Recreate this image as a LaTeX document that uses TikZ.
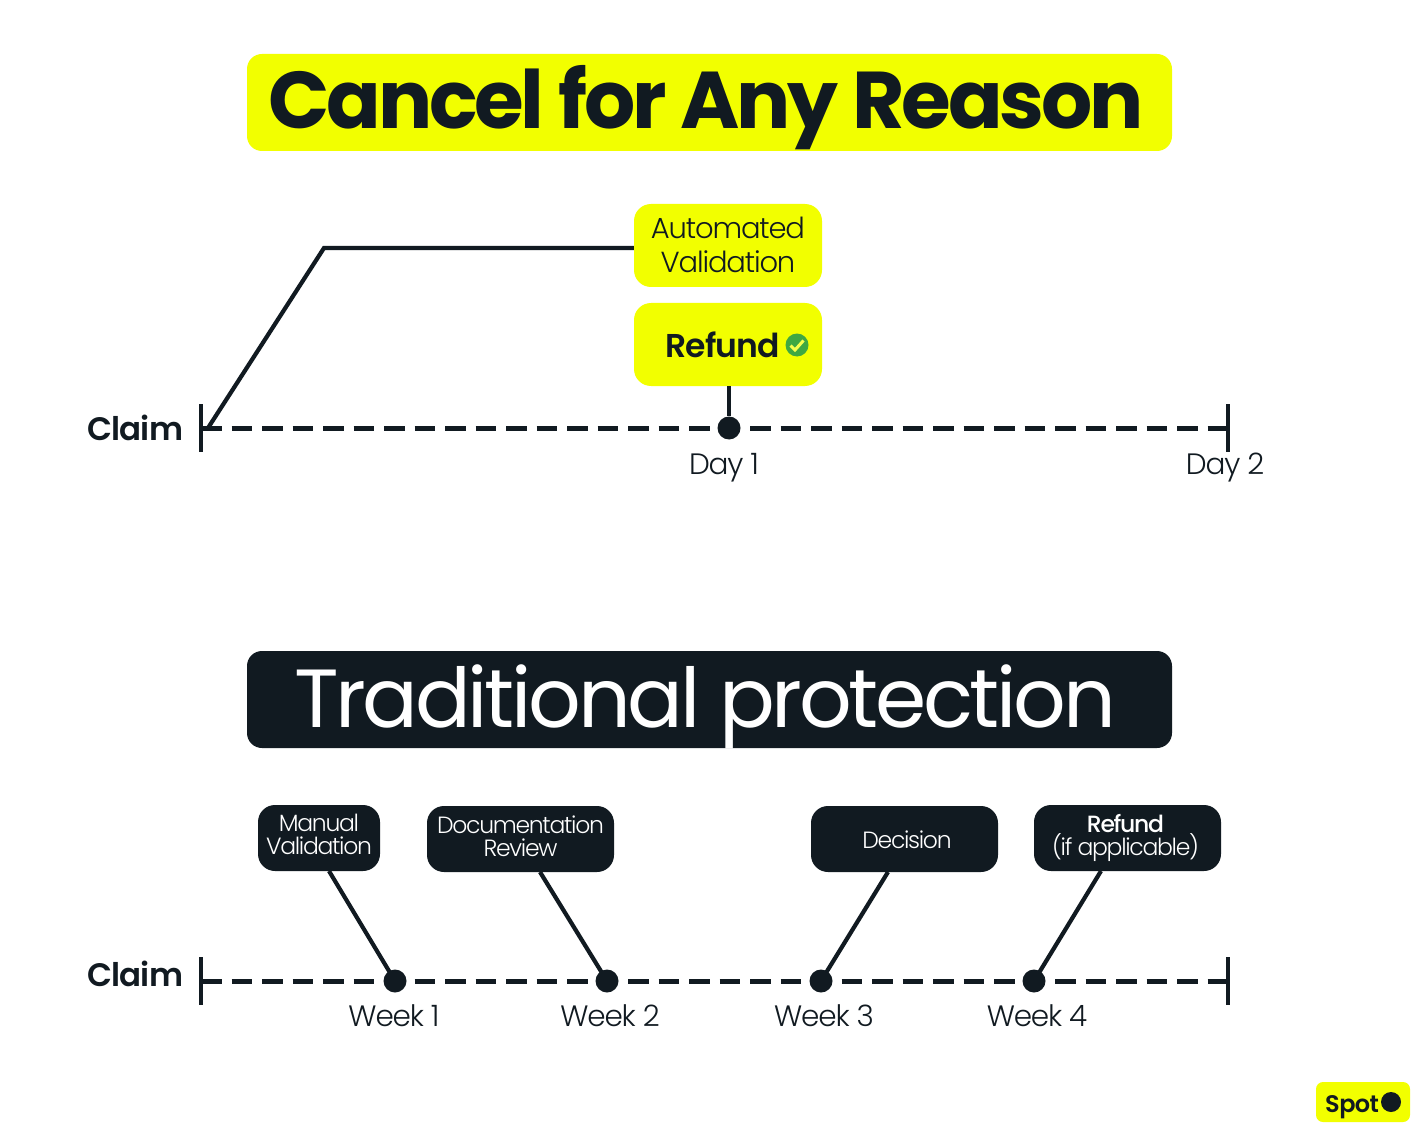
\documentclass[tikz,border=0pt]{standalone}
\usepackage{fontspec}
\setmainfont{Poppins}
\newfontfamily\popt[LetterSpace=-4,BoldFont=* Bold]{Poppins}
\newfontfamily\pops[LetterSpace=-4,UprightFont=* Light,BoldFont=* Medium]{Poppins}
\newfontfamily\popd[LetterSpace=-5.5,UprightFont=* Light,BoldFont=* Medium]{Poppins}
\newfontfamily\popb[LetterSpace=-2.5,UprightFont=* SemiBold]{Poppins}
\definecolor{ink}{HTML}{111A21}
\definecolor{lime}{HTML}{F2FF00}
\definecolor{okgreen}{HTML}{3FA842}
\tikzset{
 x=1pt,y=-1pt,
 titlebox/.style={rounded corners=15pt,minimum width=925pt,minimum height=97pt,inner sep=0pt},
 titletext/.style={inner sep=0pt,anchor=base},
 limebox/.style={fill=lime,rounded corners=17pt,minimum width=188pt,minimum height=83pt,inner sep=0pt},
 limetext/.style={inner sep=0pt,align=center,text=ink,font=\pops\fontsize{29}{34}\selectfont},
 darkbox/.style={fill=ink,rounded corners=17pt,minimum height=66pt,inner sep=0pt},
 darktext/.style={inner sep=0pt,align=center,text=white,font=\popd\fontsize{23.5}{23}\selectfont},
 timeline/.style={draw=ink,line width=5pt,dash pattern=on 20.5pt off 10pt},
 conn/.style={draw=ink,line width=4.2pt,line join=miter},
 tick/.style={draw=ink,line width=4.5pt},
 dot/.style={circle,fill=ink,minimum size=23pt,inner sep=0pt},
 lbl/.style={text=ink,inner sep=0pt,font=\pops\fontsize{29.5}{34}\selectfont},
 claim/.style={text=ink,inner sep=0pt,font=\popb\fontsize{32.5}{38}\selectfont},
}
\begin{document}
\begin{tikzpicture}
\useasboundingbox (0,0) rectangle (1428,1142);
\fill[white] (0,0) rectangle (1428,1142);
% Titles
\node[titlebox,fill=lime] (t1) at (709.5,102.5) {};
\node[titletext,text=ink] (t1t) at (706,129) {\popt\bfseries\fontsize{80.5}{90}\selectfont Cancel for Any Reason};
\node[titlebox,fill=ink] (t2) at (709.5,699.5) {};
\node[titletext,text=white] (t2t) at (705,727) {\popt\fontsize{82.5}{94}\selectfont Traditional protection};
% Top timeline
\coordinate (a0) at (201,428);
\coordinate (a1) at (1228,428);
\coordinate (a0t) at (201,404); \coordinate (a0b) at (201,452);
\coordinate (a1t) at (1228,404); \coordinate (a1b) at (1228,452);
\coordinate (bend) at (324,248);
\coordinate (start) at (208,428);
\draw[timeline] (a0) -- (a1);
\draw[tick] (a0t) -- (a0b);
\draw[tick] (a1t) -- (a1b);
\node[limebox] (auto) at (728,245.5) {};
\node[limetext] (autot) at (728,245) {Automated\\Validation};
\node[limebox] (ref) at (728,344.5) {};
\node[text=ink,inner sep=0pt,anchor=base west,font=\popb\fontsize{33}{36}\selectfont] (reftext) at (665,357) {Refund};
\node[circle,fill=okgreen,minimum size=23pt,inner sep=0pt] (ok) at (797,345) {};
\draw[draw=lime!70!white,line width=3pt] (790.5,345.5) -- (795,350) -- (803.5,340.5);
\node[dot] (d1) at (729,428) {};
\draw[conn] (start) -- (bend) -- (auto.west |- bend);
\draw[conn] (ref.south -| d1) -- (d1);
\node[claim,anchor=base west] (c1) at (87,440) {Claim};
\node[lbl,anchor=base] (l1) at (724,474) {Day 1};
\node[lbl,anchor=base] (l2) at (1225,474) {Day 2};
% Bottom timeline
\coordinate (b0) at (201,981);
\coordinate (b1) at (1228,981);
\coordinate (b0t) at (201,957); \coordinate (b0b) at (201,1005);
\coordinate (b1t) at (1228,957); \coordinate (b1b) at (1228,1005);
\draw[timeline] (b0) -- (b1);
\draw[tick] (b0t) -- (b0b);
\draw[tick] (b1t) -- (b1b);
\node[darkbox,minimum width=122pt] (m1) at (319,838) {};
\node[darkbox,minimum width=187pt] (m2) at (520.5,839) {};
\node[darkbox,minimum width=187pt] (m3) at (904.5,839) {};
\node[darkbox,minimum width=187pt] (m4) at (1127.5,838) {};
\node[darktext] (m1t) at (319,834) {Manual\\Validation};
\node[darktext] (m2t) at (520.5,836) {Documentation\\Review};
\node[darktext] (m3t) at (907,840) {Decision};
\node[darktext] (m4t) at (1125.5,838) {{\bfseries Refund}\\(if applicable)};
\node[dot] (w1) at (395,981) {};
\node[dot] (w2) at (607,981) {};
\node[dot] (w3) at (821,981) {};
\node[dot] (w4) at (1034,981) {};
\coordinate (s1) at (329,871);
\coordinate (s2) at (540,872);
\coordinate (s3) at (888,872);
\coordinate (s4) at (1101,871);
\draw[conn] (s1) -- (w1.center);
\draw[conn] (s2) -- (w2.center);
\draw[conn] (s3) -- (w3.center);
\draw[conn] (s4) -- (w4.center);
\node[claim,anchor=base west] (c2) at (87,986) {Claim};
\node[lbl,anchor=base] (k1) at (394,1026) {Week 1};
\node[lbl,anchor=base] (k2) at (610,1026) {Week 2};
\node[lbl,anchor=base] (k3) at (824,1026) {Week 3};
\node[lbl,anchor=base] (k4) at (1037,1026) {Week 4};
% Logo
\node[fill=lime,rounded corners=7pt,minimum width=94pt,minimum height=40pt,inner sep=0pt] (logo) at (1363,1102) {};
\node[text=ink,inner sep=0pt,anchor=base west,font=\popb\fontsize{24}{30}\selectfont] (spot) at (1325,1112) {Spot};
\node[circle,fill=ink,minimum size=20pt,inner sep=0pt] (spotdot) at (1391,1102) {};
\end{tikzpicture}
\end{document}
